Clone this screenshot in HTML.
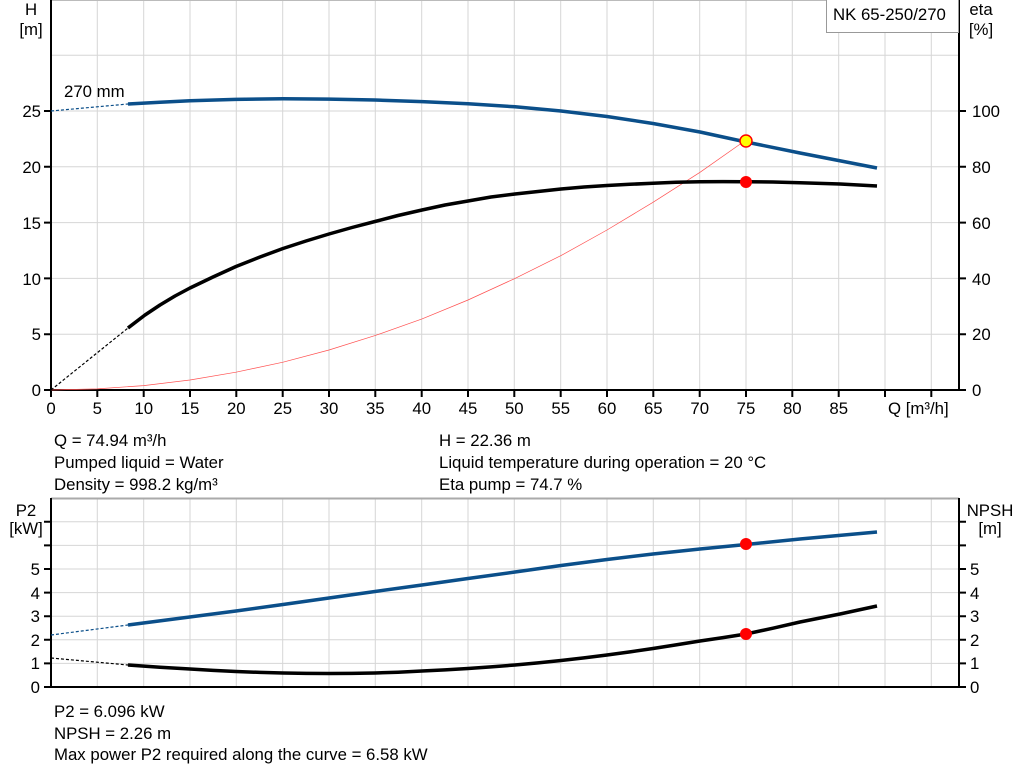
<!DOCTYPE html>
<html><head><meta charset="utf-8"><style>
body{margin:0;background:#fff}
svg{display:block;font-family:"Liberation Sans",Arial,sans-serif;font-size:16.8px}
</style></head><body>
<svg width="1024" height="781" viewBox="0 0 1024 781" xmlns="http://www.w3.org/2000/svg">
<g stroke="#d6d6d6" stroke-width="1">
<path d="M97.3 0V390M143.7 0V390M190 0V390M236.3 0V390M282.7 0V390M329 0V390M375.3 0V390M421.7 0V390M468 0V390M514.3 0V390M560.7 0V390M607 0V390M653.3 0V390M699.7 0V390M746 0V390M792.3 0V390M838.7 0V390M885 0V390M931.3 0V390"/>
<path d="M51 334.2H959M51 278.4H959M51 222.6H959M51 166.8H959M51 111H959M51 55.2H959"/>
<path d="M51 0.5H959" stroke="#bbb"/>
<path d="M97.3 498V687M143.7 498V687M190 498V687M236.3 498V687M282.7 498V687M329 498V687M375.3 498V687M421.7 498V687M468 498V687M514.3 498V687M560.7 498V687M607 498V687M653.3 498V687M699.7 498V687M746 498V687M792.3 498V687M838.7 498V687M885 498V687M931.3 498V687"/>
<path d="M51 663.4H959M51 639.8H959M51 616.2H959M51 592.6H959M51 569H959M51 545.4H959M51 521.8H959"/>
<path d="M51 498.5H959" stroke="#aaa" stroke-width="2"/>
</g>
<g stroke="#000" stroke-width="2" fill="none">
<path d="M51 0V391M50 390H960M959 0V391"/>
<path d="M44 390H51M44 334.2H51M44 278.4H51M44 222.6H51M44 166.8H51M44 111H51"/>
<path d="M959 390H966M959 334.2H966M959 278.4H966M959 222.6H966M959 166.8H966M959 111H966"/>
<path d="M51 390V397M97.3 390V397M143.7 390V397M190 390V397M236.3 390V397M282.7 390V397M329 390V397M375.3 390V397M421.7 390V397M468 390V397M514.3 390V397M560.7 390V397M607 390V397M653.3 390V397M699.7 390V397M746 390V397M792.3 390V397M838.7 390V397M885 390V397M931.3 390V397"/>
<path d="M51 498V688M50 687H960M959 498V688"/>
<path d="M44 687H51M44 663.4H51M44 639.8H51M44 616.2H51M44 592.6H51M44 569H51M44 545.4H51M44 521.8H51"/>
<path d="M959 687H966M959 663.4H966M959 639.8H966M959 616.2H966M959 592.6H966M959 569H966M959 545.4H966M959 521.8H966"/>
</g>
<rect x="826.5" y="-1" width="132" height="33.5" fill="#fff" stroke="#999"/>
<text x="833" y="20">NK 65-250/270</text>
<text x="31" y="15" text-anchor="middle">H</text>
<text x="31" y="35" text-anchor="middle">[m]</text>
<text x="981" y="15" text-anchor="middle">eta</text>
<text x="981" y="35" text-anchor="middle">[%]</text>
<text x="64" y="97">270 mm</text>
<g text-anchor="end">
<text x="41" y="396">0</text><text x="41" y="340">5</text><text x="41" y="285">10</text><text x="41" y="229">15</text><text x="41" y="173">20</text><text x="41" y="117">25</text>
</g>
<g>
<text x="972" y="396">0</text><text x="972" y="340">20</text><text x="972" y="285">40</text><text x="972" y="229">60</text><text x="972" y="173">80</text><text x="972" y="117">100</text>
</g>
<g text-anchor="middle">
<text x="51" y="414">0</text><text x="97.3" y="414">5</text><text x="143.7" y="414">10</text><text x="190" y="414">15</text><text x="236.3" y="414">20</text><text x="282.7" y="414">25</text><text x="329" y="414">30</text><text x="375.3" y="414">35</text><text x="421.7" y="414">40</text><text x="468" y="414">45</text><text x="514.3" y="414">50</text><text x="560.7" y="414">55</text><text x="607" y="414">60</text><text x="653.3" y="414">65</text><text x="699.7" y="414">70</text><text x="746" y="414">75</text><text x="792.3" y="414">80</text><text x="838.7" y="414">85</text>
</g>
<text x="888" y="414">Q [m³/h]</text>
<text x="54" y="446">Q = 74.94 m³/h</text>
<text x="54" y="468">Pumped liquid = Water</text>
<text x="54" y="490">Density = 998.2 kg/m³</text>
<text x="439" y="446">H = 22.36 m</text>
<text x="439" y="468">Liquid temperature during operation = 20 °C</text>
<text x="439" y="490">Eta pump = 74.7 %</text>
<text x="26" y="516" text-anchor="middle">P2</text>
<text x="26" y="534" text-anchor="middle">[kW]</text>
<text x="990" y="516" text-anchor="middle">NPSH</text>
<text x="990" y="534" text-anchor="middle">[m]</text>
<g text-anchor="end">
<text x="40" y="693">0</text><text x="40" y="669">1</text><text x="40" y="646">2</text><text x="40" y="622">3</text><text x="40" y="599">4</text><text x="40" y="575">5</text>
</g>
<g>
<text x="970" y="693">0</text><text x="970" y="669">1</text><text x="970" y="646">2</text><text x="970" y="622">3</text><text x="970" y="599">4</text><text x="970" y="575">5</text>
</g>
<text x="54" y="717">P2 = 6.096 kW</text>
<text x="54" y="739">NPSH = 2.26 m</text>
<text x="54" y="760">Max power P2 required along the curve = 6.58 kW</text>
<polyline fill="none" stroke="#ff5050" stroke-width="0.7" points="51,390 97,388.9 143.7,385.6 190,380 236,372.2 283,362.2 329,350 375,335.6 422,318.9 468,300 514,278.9 561,255.6 607,230 653,202.3 700,172.3 746,140"/>
<path d="M51 111L128 104" stroke="#0b4f8a" stroke-width="1.2" stroke-dasharray="3,2" fill="none"/>
<path d="M51 390L128 328" stroke="#000" stroke-width="1.2" stroke-dasharray="3,2" fill="none"/>
<polyline fill="none" stroke="#0b4f8a" stroke-width="3.5" stroke-linejoin="round" points="128,104 160,102.2 190,100.8 236,99.4 283,98.8 329,99.1 375,100 422,101.6 468,103.8 515,106.8 561,111 607,116.5 653,123.5 700,132 746,142 800,153 877,168"/>
<polyline fill="none" stroke="#000" stroke-width="3.5" stroke-linejoin="round" points="128,328 145,315 160,305 175,296 190,288 213,277 236,266.5 260,257 283,248.5 306,241 329,234 352,227.5 375,221.5 398,215.5 422,210 445,205 468,201 491,197 515,194 538,191.5 561,189 584,187 607,185.5 630,184.3 653,183.2 676,182.3 700,181.8 723,181.6 746,181.7 773,182 800,182.8 840,184 877,186"/>
<circle cx="746" cy="141" r="6" fill="#ffff00" stroke="#ff0000" stroke-width="1.5"/>
<circle cx="746" cy="182" r="6" fill="#ff0000"/>
<path d="M51 635L128 625" stroke="#0b4f8a" stroke-width="1.2" stroke-dasharray="3,2" fill="none"/>
<path d="M51 658L128 665" stroke="#000" stroke-width="1.2" stroke-dasharray="3,2" fill="none"/>
<polyline fill="none" stroke="#0b4f8a" stroke-width="3.5" stroke-linejoin="round" points="128,625 182,618 236,611 283,604.5 329,598 375,591.5 422,585 468,578.5 515,572 561,565.5 607,559.5 653,554 700,549 746,544.5 800,539 877,532"/>
<polyline fill="none" stroke="#000" stroke-width="3.5" stroke-linejoin="round" points="128,665 160,667.3 190,669 213,670.4 236,671.5 260,672.4 283,673 306,673.4 329,673.5 352,673.4 375,673 398,672.2 422,671 445,669.9 468,668.5 491,666.9 515,665 538,662.9 561,660.5 584,657.9 607,655 630,651.9 653,648.5 676,644.9 700,641 723,637.6 746,634 773,628.2 800,622 840,614 877,606"/>
<circle cx="746" cy="544" r="6" fill="#ff0000"/>
<circle cx="746" cy="634" r="6" fill="#ff0000"/>
</svg>
</body></html>
